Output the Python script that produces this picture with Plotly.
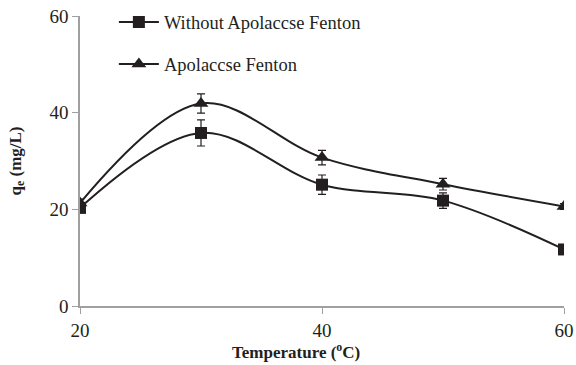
import plotly.graph_objects as go

temperature = [20, 30, 40, 50, 60]

without_fenton = [20.3, 35.8, 25.1, 21.8, 11.7]
without_fenton_err = [1.0, 2.7, 2.0, 1.6, 0.6]

with_fenton = [21.3, 41.9, 30.7, 25.2, 20.6]
with_fenton_err = [0.8, 2.0, 1.5, 1.2, 0.6]

ink = "#231f20"
axis_grey = "#a0a0a0"
serif = "Liberation Serif"

fig = go.Figure()

fig.add_trace(go.Scatter(
    x=temperature, y=without_fenton,
    name="Without Apolaccse Fenton",
    mode="lines+markers",
    line=dict(color=ink, width=2, shape="spline", smoothing=1.0),
    marker=dict(symbol="square", size=12, color=ink),
    error_y=dict(type="data", array=without_fenton_err, color=ink, thickness=1.2, width=4),
    legendgroup="a",
))

fig.add_trace(go.Scatter(
    x=temperature, y=with_fenton,
    name="Apolaccse Fenton",
    mode="lines+markers",
    line=dict(color=ink, width=2, shape="spline", smoothing=1.0),
    marker=dict(symbol="triangle-up", size=13, color=ink),
    error_y=dict(type="data", array=with_fenton_err, color=ink, thickness=1.2, width=4),
    legendgroup="b",
))

fig.update_layout(
    width=576, height=365,
    margin=dict(l=80, r=12, t=16, b=59, autoexpand=False),
    paper_bgcolor="white",
    plot_bgcolor="white",
    font=dict(family=serif, size=16, color=ink),
    showlegend=True,
    legend=dict(
        x=0.07, y=1.043, xanchor="left", yanchor="top",
        bgcolor="rgba(0,0,0,0)",
        font=dict(family=serif, size=18.5, color=ink),
        traceorder="grouped",
        tracegroupgap=15,
        itemwidth=40,
    ),
    xaxis=dict(
        range=[20, 60],
        tickvals=[20, 40, 60],
        showgrid=False,
        zeroline=False,
        showline=True,
        linecolor=axis_grey,
        linewidth=1.5,
        ticks="outside",
        tickcolor=axis_grey,
        ticklen=6,
        automargin=False,
        tickfont=dict(family=serif, size=19, color=ink),
    ),
    yaxis=dict(
        range=[0, 60],
        tickvals=[0, 20, 40, 60],
        showgrid=False,
        zeroline=False,
        showline=True,
        linecolor=axis_grey,
        linewidth=1.5,
        ticks="outside",
        tickcolor=axis_grey,
        ticklen=6,
        automargin=False,
        tickfont=dict(family=serif, size=19, color=ink),
        title=dict(text="<b>q<sub>e</sub> (mg/L)</b>",
                   font=dict(family=serif, size=17, color=ink), standoff=24),
    ),
    annotations=[dict(
        text="<b>Temperature (<sup>o</sup>C)</b>",
        xref="paper", yref="paper",
        x=0.446, y=-0.155, xanchor="center", yanchor="middle",
        showarrow=False,
        font=dict(family=serif, size=17, color=ink),
    )],
)

fig.write_html("out.html")
